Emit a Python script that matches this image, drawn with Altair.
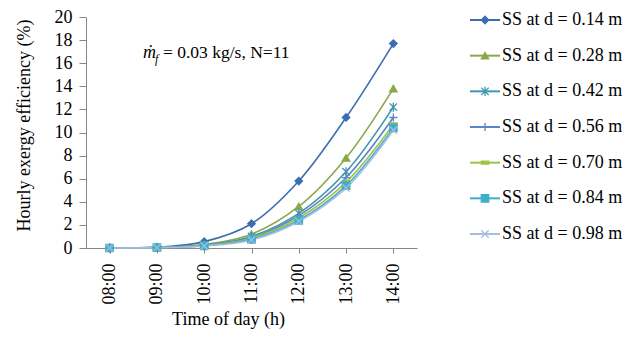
import altair as alt
import pandas as pd

times = ["08:00", "09:00", "10:00", "11:00", "12:00", "13:00", "14:00"]
series_names = [
    "SS at d = 0.14 m",
    "SS at d = 0.28 m",
    "SS at d = 0.42 m",
    "SS at d = 0.56 m",
    "SS at d = 0.70 m",
    "SS at d = 0.84 m",
    "SS at d = 0.98 m",
]
v014 = [0.0, 0.05, 0.55, 2.1, 5.8, 11.3, 17.7]
v028 = [0.0, 0.05, 0.30, 1.2, 3.6, 7.8, 13.8]
v042 = [0.0, 0.05, 0.26, 1.0, 3.0, 6.6, 12.2]
v056 = [0.0, 0.04, 0.23, 0.9, 2.8, 6.1, 11.3]
v070 = [0.0, 0.04, 0.21, 0.85, 2.6, 5.7, 10.7]
v084 = [0.0, 0.03, 0.19, 0.75, 2.4, 5.4, 10.4]
v098 = [0.0, 0.03, 0.17, 0.70, 2.3, 5.2, 10.2]
all_values = [v014, v028, v042, v056, v070, v084, v098]

colors = ["#3C6EAF", "#8AA84A", "#3E97AE", "#5884C9", "#9CC447", "#3FAECB", "#A9BBDD"]
shapes = [
    "diamond",
    "triangle-up",
    "M-1,-1L1,1M-1,1L1,-1M0,-1.25L0,1.25",
    "M-1.1,0L1.1,0M0,-1.1L0,1.1",
    "M-1,-0.4L1,-0.4L1,0.4L-1,0.4Z",
    "square",
    "M-1,-1L1,1M-1,1L1,-1",
]

rows = []
for name, vals in zip(series_names, all_values):
    for t, v in zip(times, vals):
        rows.append({"series": name, "time": t, "value": v})
df = pd.DataFrame(rows)
legend_df = pd.DataFrame({"series": series_names})

FONT = "Liberation Serif"
stroke_scale = alt.Scale(domain=series_names, range=colors)
shape_scale = alt.Scale(domain=series_names, range=shapes)

x_enc = alt.X(
    "time:N",
    sort=times,
    scale=alt.Scale(padding=0.5),
    axis=alt.Axis(
        title="Time of day (h)",
        labelAngle=-90,
        labelPadding=10,
        tickSize=5,
        titleX=142,
        titleY=76,
        titleAnchor="start",
        titleAlign="center",
        titleBaseline="alphabetic",
    ),
)
y_enc = alt.Y(
    "value:Q",
    scale=alt.Scale(domain=[0, 20], nice=False),
    axis=alt.Axis(
        title="Hourly exergy efficiency (%)",
        values=list(range(0, 21, 2)),
        tickSize=7,
        labelPadding=7,
        titleAngle=-90,
        titleX=-62,
        titleY=108,
        titleAlign="center",
        titleBaseline="middle",
    ),
)

lines = alt.Chart(df).mark_line(interpolate="catmull-rom", strokeWidth=1.6).encode(
    x=x_enc,
    y=y_enc,
    stroke=alt.Stroke("series:N", scale=stroke_scale, legend=None),
    detail="series:N",
)
points = alt.Chart(df).mark_point(filled=True, size=55, strokeWidth=1.3, opacity=1).encode(
    x=x_enc,
    y=y_enc,
    fill=alt.Fill("series:N", scale=stroke_scale, legend=None),
    stroke=alt.Stroke("series:N", scale=stroke_scale, legend=None),
    shape=alt.Shape("series:N", scale=shape_scale, legend=None),
)
main = alt.layer(lines, points)

ly = alt.Y(
    "series:N",
    sort=series_names,
    scale=alt.Scale(type="point", range=[3, 217], padding=0),
    axis=None,
)
leg_rule = alt.Chart(legend_df).mark_rule(strokeWidth=2).encode(
    x=alt.value(384),
    x2=alt.value(414),
    y=ly,
    stroke=alt.Stroke("series:N", scale=stroke_scale, legend=None),
)
leg_pts = alt.Chart(legend_df).mark_point(filled=True, size=55, strokeWidth=1.3, opacity=1).encode(
    x=alt.value(399),
    y=ly,
    fill=alt.Fill("series:N", scale=stroke_scale, legend=None),
    stroke=alt.Stroke("series:N", scale=stroke_scale, legend=None),
    shape=alt.Shape("series:N", scale=shape_scale, legend=None),
)
leg_txt = alt.Chart(legend_df).mark_text(
    align="left", baseline="middle", font=FONT, fontSize=18, color="black", dx=2
).encode(x=alt.value(414), y=ly, text="series:N")
legend_layer = alt.layer(leg_rule, leg_pts, leg_txt)

ann_m = alt.Chart(legend_df.head(1)).mark_text(
    text="ṁ", font=FONT, fontStyle="italic", fontSize=18, align="left", baseline="alphabetic", color="black"
).encode(x=alt.value(57), y=alt.value(41))
ann_f = alt.Chart(legend_df.head(1)).mark_text(
    text="f", font=FONT, fontStyle="italic", fontSize=12, align="left", baseline="alphabetic", color="black"
).encode(x=alt.value(69), y=alt.value(46))
ann_rest = alt.Chart(legend_df.head(1)).mark_text(
    text="= 0.03 kg/s, N=11", font=FONT, fontSize=17.5, align="left", baseline="alphabetic", color="black"
).encode(x=alt.value(77), y=alt.value(41))

chart = (
    alt.layer(main, legend_layer, ann_m, ann_f, ann_rest)
    .resolve_scale(y="independent")
    .properties(
        width=331,
        height=231,
        autosize=alt.AutoSizeParams(type="none"),
        padding={"left": 78, "top": 9, "right": 209, "bottom": 81},
    )
    .configure_view(stroke=None)
    .configure_axis(
        labelFont=FONT,
        titleFont=FONT,
        labelFontSize=18,
        titleFontSize=18,
        titleFontWeight="normal",
        labelColor="black",
        titleColor="black",
        domainColor="#868686",
        tickColor="#868686",
        grid=False,
    )
)

chart.save("out.html", embed_options={"renderer": "svg", "actions": False})
